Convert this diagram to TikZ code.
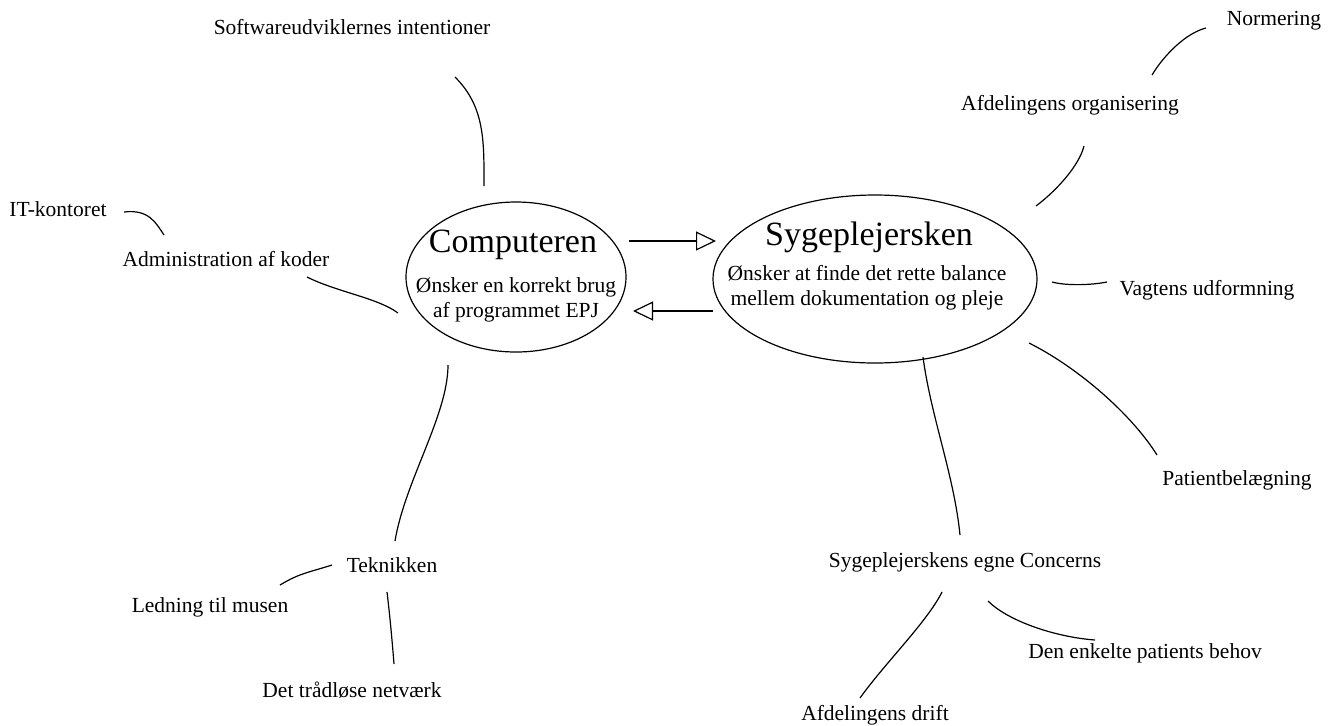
\documentclass[tikz,border=0pt]{standalone}
\usepackage{fontspec}
\setmainfont{Liberation Serif}
\usetikzlibrary{shapes.geometric,arrows.meta}

\begin{document}
\begin{tikzpicture}[x=0.5pt,y=-0.5pt,
    txt/.style={inner sep=0pt,align=center,font=\fontsize{10.75}{12.5}\selectfont},
    big/.style={inner sep=0pt,font=\fontsize{17}{20}\selectfont},
    oval/.style={draw,ellipse,line width=0.6pt,inner sep=0pt},
    forb/.style={line width=0.6pt},
    pil/.style={line width=0.6pt,-{Triangle[open,length=10pt,width=9.5pt]}}]
        \useasboundingbox (0,0) rectangle (1339,725);

        %ovaler
        \node[oval,minimum width=110pt,minimum height=75pt] (comp) at (516,277) {};
        \node[big] (compTitle) at (513,245) {Computeren};
        \node[txt] (compText) at (516,300) {Ønsker en korrekt brug\\af programmet EPJ};

        \node[oval,minimum width=162pt,minimum height=84pt] (syg) at (875,279) {};
        \node[big] (sygTitle) at (869,237) {Sygeplejersken};
        \node[txt] (sygText) at (867,288) {Ønsker at finde det rette balance\\mellem dokumentation og pleje};

        \draw[pil] ([shift={(113,-36)}]comp.center) -- ([shift={(-159,-38)}]syg.center);
        \draw[pil] ([shift={(-162,32)}]syg.center) -- ([shift={(117,34)}]comp.center);

        %computeren
        \node[txt] (soft) at (352,27) {Softwareudviklernes intentioner};
        \node[txt] (itk) at (58,209) {IT-kontoret};
        \node[txt] (admin) at (226,259) {Administration af koder};
        \node[txt] (tek) at (392,565) {Teknikken};
        \node[txt] (led) at (210,607) {Ledning til musen};
        \node[txt] (det) at (352,690) {Det trådløse netværk};

        \draw[forb] ([shift={(103,50)}]soft.center) .. controls +(30,30) and +(0,-45) .. ([shift={(-32,-91)}]comp.center);
        \draw[forb] ([shift={(66,3)}]itk.center) .. controls +(25,-3) and +(-8,-12) .. ([shift={(-62,-24)}]admin.center);
        \draw[forb] ([shift={(81,18)}]admin.center) .. controls +(30,15) and +(-20,-15) .. ([shift={(-118,36)}]comp.center);
        \draw[forb] ([shift={(-68,88)}]comp.center) .. controls +(0,50) and +(10,-60) .. ([shift={(3,-24)}]tek.center);
        \draw[forb] ([shift={(-60,0)}]tek.center) .. controls +(-25,8) and +(20,-12) .. ([shift={(70,-22)}]led.center);
        \draw[forb] ([shift={(-5,27)}]tek.center) .. controls +(3,25) and +(-2,-25) .. ([shift={(42,-26)}]det.center);

        %sygeplejersken
        \node[txt] (norm) at (1274,21) {Normering};
        \node[txt] (org) at (1070,105) {Afdelingens organisering};
        \node[txt] (vag) at (1207,290) {Vagtens udformning};
        \node[txt] (pat) at (1237,480) {Patientbelægning};
        \node[txt] (concerns) at (965,562) {Sygeplejerskens egne Concerns};
        \node[txt] (den) at (1145,653) {Den enkelte patients behov};
        \node[txt] (dri) at (875,715) {Afdelingens drift};

        \draw[forb] ([shift={(161,-73)}]syg.center) .. controls +(20,-15) and +(-5,20) .. ([shift={(14,41)}]org.center);
        \draw[forb] ([shift={(82,-30)}]org.center) .. controls +(12,-20) and +(-20,5) .. ([shift={(-68,7)}]norm.center);
        \draw[forb] ([shift={(177,3)}]syg.center) .. controls +(15,4) and +(-15,3) .. ([shift={(-100,-8)}]vag.center);
        \draw[forb] ([shift={(154,64)}]syg.center) .. controls +(50,25) and +(-25,-40) .. ([shift={(-80,-25)}]pat.center);
        \draw[forb] ([shift={(48,78)}]syg.center) .. controls +(8,60) and +(-6,-60) .. ([shift={(-5,-27)}]concerns.center);
        \draw[forb] ([shift={(-23,30)}]concerns.center) .. controls +(-15,30) and +(25,-35) .. ([shift={(-15,-17)}]dri.center);
        \draw[forb] ([shift={(23,39)}]concerns.center) .. controls +(20,20) and +(-40,-3) .. ([shift={(-50,-13)}]den.center);

    \end{tikzpicture}
\end{document}
